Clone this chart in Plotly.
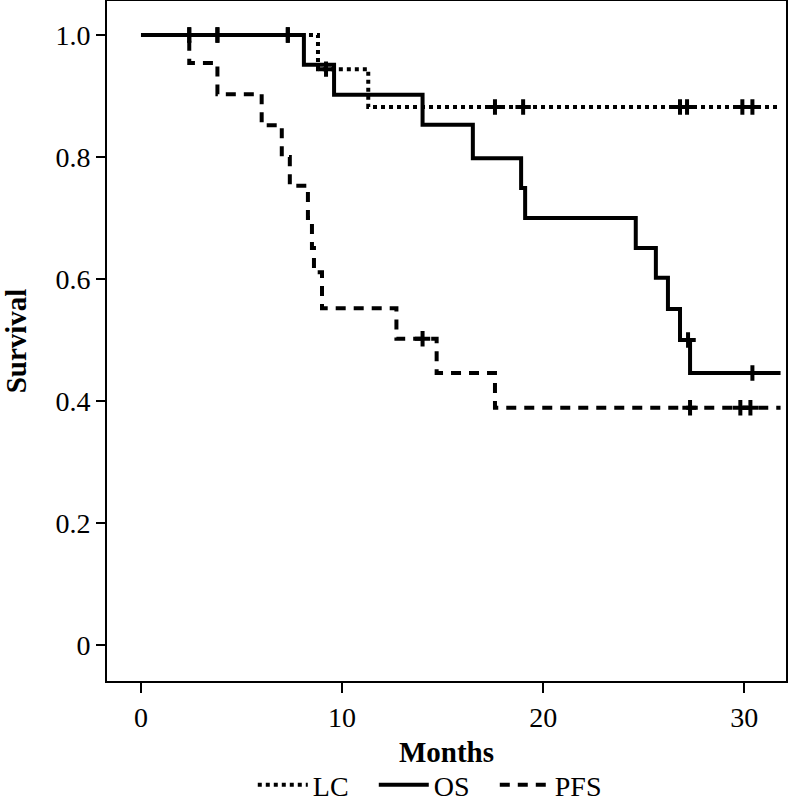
import plotly.graph_objects as go

# Kaplan-Meier step data (months, survival)
LC_TIMES = [0, 8.8, 11.3, 31.8]
LC_SURV = [1.0, 0.944, 0.882, 0.882]
LC_CENSOR = [2.4, 3.8, 7.3, 9.2, 17.6, 19.0, 26.8, 27.15, 29.9, 30.4]

OS_TIMES = [0, 8.1, 9.6, 14.0, 16.5, 18.9, 19.1, 24.6, 25.6, 26.2, 26.8, 27.3, 31.8]
OS_SURV = [1.0, 0.951, 0.902, 0.853, 0.798, 0.749, 0.700, 0.651, 0.602, 0.551, 0.500, 0.446, 0.446]
OS_CENSOR = [2.4, 3.8, 7.3, 27.2, 30.4]

PFS_TIMES = [0, 2.4, 3.8, 6.0, 7.0, 7.4, 8.3, 8.5, 8.6, 9.0, 12.7, 14.7, 17.6, 31.8]
PFS_SURV = [1.0, 0.954, 0.903, 0.852, 0.800, 0.753, 0.700, 0.651, 0.611, 0.552, 0.502, 0.446, 0.389, 0.389]
PFS_CENSOR = [14.0, 27.3, 29.8, 30.3]

Y_TICKS = [0, 0.2, 0.4, 0.6, 0.8, 1.0]
Y_TICK_TEXT = ["0", "0.2", "0.4", "0.6", "0.8", "1.0"]
X_TICKS = [0, 10, 20, 30]

FONT = "Liberation Serif"


def surv_at(times, surv, t):
    val = surv[0]
    for ti, si in zip(times, surv):
        if ti <= t:
            val = si
    return val


def add_curve(fig, name, times, surv, censor, dash, width):
    fig.add_trace(
        go.Scatter(
            x=times,
            y=surv,
            mode="lines",
            name=name,
            line=dict(color="black", width=width, dash=dash, shape="hv"),
        )
    )
    fig.add_trace(
        go.Scatter(
            x=censor,
            y=[surv_at(times, surv, t) for t in censor],
            mode="markers",
            showlegend=False,
            marker=dict(
                symbol="cross-thin",
                size=11,
                color="black",
                line=dict(color="black", width=4),
            ),
        )
    )


fig = go.Figure()
add_curve(fig, "LC", LC_TIMES, LC_SURV, LC_CENSOR, "4px,4px", 4)
add_curve(fig, "OS", OS_TIMES, OS_SURV, OS_CENSOR, "solid", 4)
add_curve(fig, "PFS", PFS_TIMES, PFS_SURV, PFS_CENSOR, "10px,8px", 4)

fig.update_layout(
    width=789,
    height=801,
    margin=dict(l=107, r=3, t=1, b=120, autoexpand=False),
    paper_bgcolor="white",
    plot_bgcolor="white",
    font=dict(family=FONT, size=28, color="black"),
    showlegend=True,
    legend=dict(
        orientation="h",
        x=0.482,
        y=-0.153,
        xanchor="center",
        yanchor="middle",
        font=dict(family=FONT, size=28),
        itemwidth=50,
        entrywidth=56,
        traceorder="normal",
    ),
    xaxis=dict(
        range=[-1.69, 32.07],
        tickvals=X_TICKS,
        ticks="outside",
        ticklen=10,
        tickwidth=2,
        tickcolor="black",
        showline=True,
        mirror=True,
        linecolor="black",
        linewidth=2,
        showgrid=False,
        zeroline=False,
        automargin=False,
        title=dict(text="<b>Months</b>", font=dict(family=FONT, size=29), standoff=10),
    ),
    yaxis=dict(
        range=[-0.059, 1.0557],
        tickvals=Y_TICKS,
        ticktext=Y_TICK_TEXT,
        ticks="outside",
        ticklen=9,
        tickwidth=2,
        tickcolor="black",
        showline=True,
        mirror=True,
        linecolor="black",
        linewidth=2,
        showgrid=False,
        zeroline=False,
        automargin=False,
        title=dict(text="<b>Survival</b>", font=dict(family=FONT, size=29), standoff=46),
    ),
)

# the page body has a default 8px margin; drop it so the figure fills the window
fig.write_html(
    "out.html",
    config={"displayModeBar": False},
    post_script="document.body.style.margin='0';",
)
